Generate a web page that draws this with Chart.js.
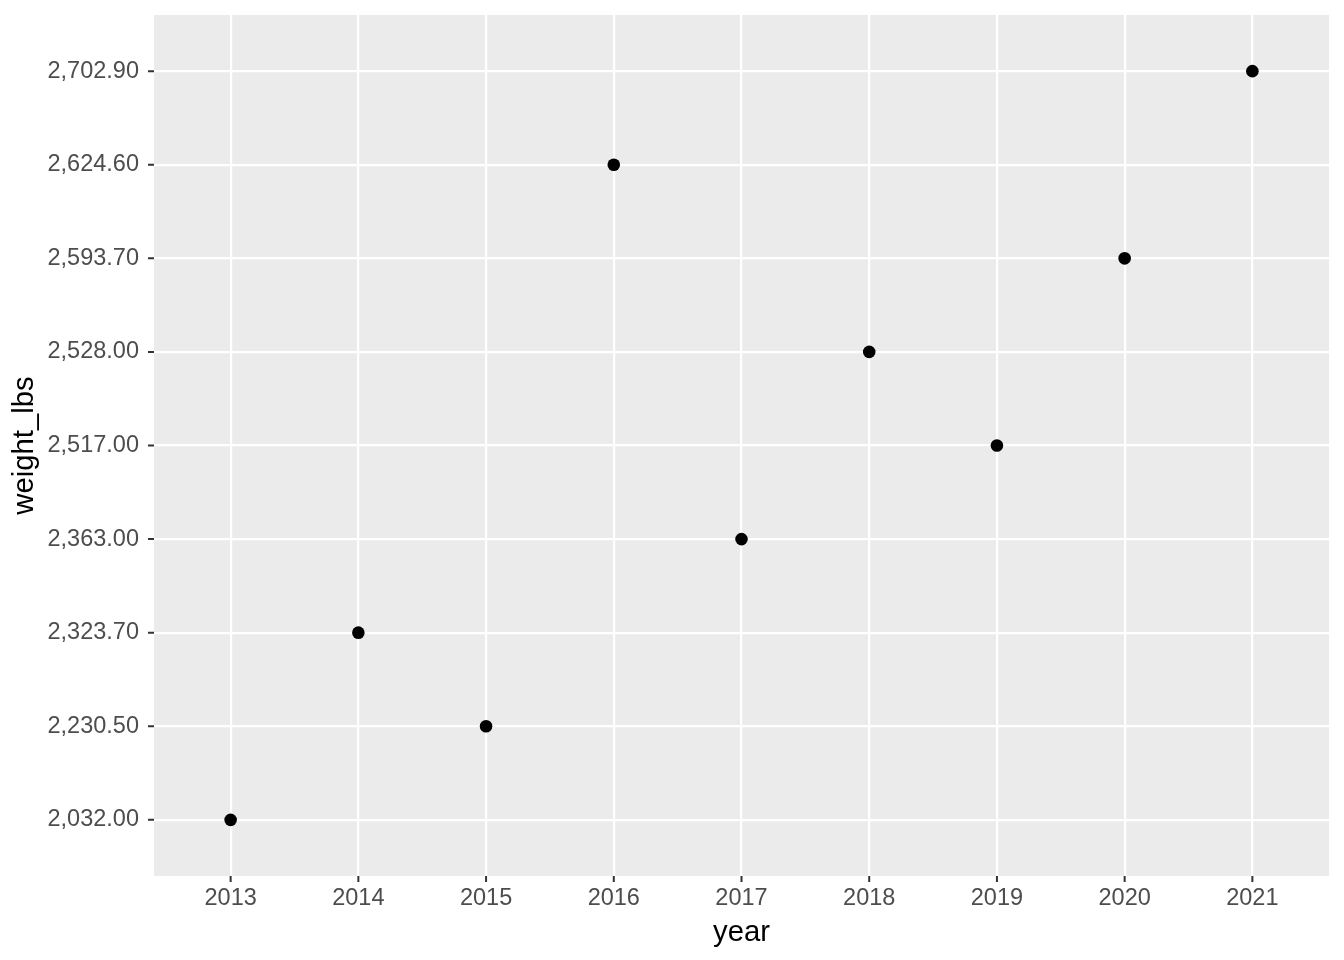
<!DOCTYPE html>
<html><head><meta charset="utf-8">
<script src="https://cdn.jsdelivr.net/npm/chart.js@4/dist/chart.umd.min.js"></script>
<style>html,body{margin:0;padding:0;background:#fff}#wrap{width:1344px;height:960px}</style>
</head><body><div id="wrap"><canvas id="c" width="1344" height="960"></canvas></div>
<script>
const years = ["2013","2014","2015","2016","2017","2018","2019","2020","2021"];
const weights = [2032.00, 2323.70, 2230.50, 2624.60, 2363.00, 2528.00, 2517.00, 2593.70, 2702.90];
const fmt = v => v.toLocaleString('en-US',{minimumFractionDigits:2, maximumFractionDigits:2});
const weightLabels = weights.map(fmt).filter((v,i,a)=>a.indexOf(v)===i)
  .sort((a,b)=>parseFloat(a.replace(/,/g,''))-parseFloat(b.replace(/,/g,'')));

const points = years.map((y,i)=>({x: i, y: weightLabels.indexOf(fmt(weights[i]))}));
const FONT = "'Liberation Sans', Arial, Helvetica, sans-serif";

const panelBg = {
  id:'panelBg',
  beforeDraw(chart){
    const {ctx, chartArea:a} = chart;
    ctx.save(); ctx.fillStyle='#EBEBEB';
    ctx.fillRect(a.left, a.top, a.right-a.left, a.bottom-a.top); ctx.restore();
  },
  afterDraw(chart){
    const {ctx, chartArea:a} = chart;
    const xs = chart.scales.x, ys = chart.scales.y;
    ctx.save(); ctx.strokeStyle='#333333'; ctx.lineWidth=2;
    ctx.beginPath();
    xs.ticks.forEach(t=>{const p=xs.getPixelForValue(t.value); ctx.moveTo(p,a.bottom); ctx.lineTo(p,a.bottom+6);});
    ys.ticks.forEach(t=>{const p=ys.getPixelForValue(t.value); ctx.moveTo(a.left,p); ctx.lineTo(a.left-6,p);});
    ctx.stroke(); ctx.restore();
  }
};

new Chart(document.getElementById('c'), {
  type:'scatter',
  data:{datasets:[{data:points, backgroundColor:'#000', borderWidth:0, pointRadius:6.3, pointHoverRadius:6.3}]},
  options:{
    responsive:false, animation:false, events:[],
    layout:{padding:{top:15, right:15, left:0, bottom:0}},
    plugins:{legend:{display:false}, tooltip:{enabled:false}},
    scales:{
      x:{type:'linear', min:-0.6, max:8.6,
        afterBuildTicks(s){ s.ticks = years.map((_,i)=>({value:i})); },
        afterFit(s){ s.height = 84; s.paddingLeft = 0; s.paddingRight = 0; },
        grid:{color:'#FFFFFF', lineWidth:2.2, drawTicks:false},
        border:{display:false},
        ticks:{autoSkip:false, maxRotation:0, padding:8, color:'#4D4D4D', font:{family:FONT, size:23.5},
          callback:(v)=>years[v]},
        title:{display:true, text:'year', color:'#000', font:{family:FONT, size:29.3}, padding:{top:0,bottom:10}}
      },
      y:{type:'linear', min:-0.6, max:8.6,
        afterBuildTicks(s){ s.ticks = weightLabels.map((_,i)=>({value:i})); },
        afterFit(s){ s.width = 154; s.paddingTop = 0; s.paddingBottom = 0; },
        grid:{color:'#FFFFFF', lineWidth:2.2, drawTicks:false},
        border:{display:false},
        ticks:{autoSkip:false, padding:15, color:'#4D4D4D', font:{family:FONT, size:23.5},
          callback:(v)=>weightLabels[v]},
        title:{display:true, text:'weight_lbs', color:'#000', font:{family:FONT, size:29.3}, padding:{top:7,bottom:0}}
      }
    }
  },
  plugins:[panelBg]
});
</script></body></html>
